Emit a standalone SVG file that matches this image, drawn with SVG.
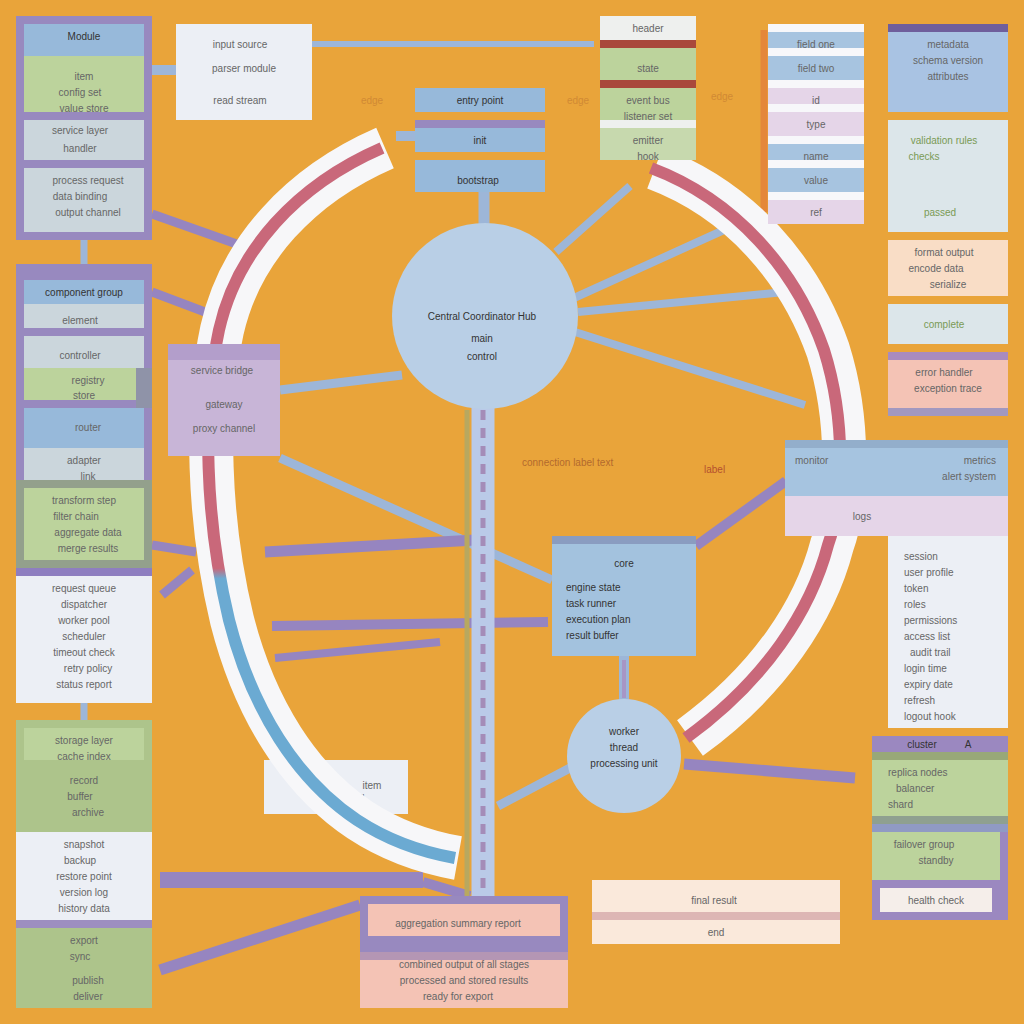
<svg xmlns="http://www.w3.org/2000/svg" width="1024" height="1024" viewBox="0 0 1024 1024">
<style>
.t{font-family:"Liberation Sans",Arial,sans-serif;font-size:10px;fill:#666;text-anchor:middle;dominant-baseline:central}
.l{text-anchor:start}
.r{text-anchor:end}
.d{fill:#333}
.g{fill:#7a9a55}
.o{fill:#b36a2e}
.cb{stroke:#9DB6D8;fill:none}
.cp{stroke:#9685C0;fill:none}
.blue{fill:#97B9DA}
.lblue{fill:#A7C4E0}
.grn{fill:#BCD39C}
.grn2{fill:#ADC48B}
.gb{fill:#CBD6DC}
.wh{fill:#ECEFF5}
.pur{fill:#9889BF}
.lav{fill:#C8B5D7}
.lavp{fill:#E5D5E8}
.peach{fill:#F9DDC6}
.peachp{fill:#FAE9DB}
.pink{fill:#F4C3B5}
.circ{fill:#B9CFE6}
</style>
<defs>
<linearGradient id="lstripe" gradientUnits="userSpaceOnUse" x1="0" y1="0" x2="0" y2="1024">
<stop offset="0" stop-color="#C9687A"/><stop offset="0.555" stop-color="#C9687A"/><stop offset="0.565" stop-color="#6BAAD2"/><stop offset="1" stop-color="#6BAAD2"/>
</linearGradient>
</defs>
<rect width="1024" height="1024" fill="#E9A43A"/>

<g id="connectors">
<line class="cb" x1="312" y1="44" x2="594" y2="44" stroke-width="6"/>
<line class="cb" x1="152" y1="70" x2="176" y2="70" stroke-width="10"/>
<line class="cb" x1="84" y1="240" x2="84" y2="264" stroke-width="7"/>
<line class="cb" x1="84" y1="703" x2="84" y2="720" stroke-width="7"/>
<line class="cp" x1="152" y1="214" x2="248" y2="248" stroke-width="9"/>
<line class="cp" x1="152" y1="292" x2="205" y2="312" stroke-width="9"/>
<line class="cp" x1="152" y1="545" x2="196" y2="552" stroke-width="9"/>
<line class="cp" x1="162" y1="595" x2="192" y2="570" stroke-width="9"/>
<line class="cb" x1="280" y1="390" x2="402" y2="375" stroke-width="9"/>
<line class="cb" x1="280" y1="458" x2="552" y2="580" stroke-width="9"/>
<line class="cp" x1="265" y1="552" x2="475" y2="540" stroke-width="11"/>
<line class="cp" x1="272" y1="626" x2="548" y2="622" stroke-width="10"/>
<line class="cp" x1="275" y1="658" x2="440" y2="642" stroke-width="8"/>
<line class="cp" x1="160" y1="880" x2="423" y2="880" stroke-width="16"/>
<line class="cp" x1="423" y1="882" x2="470" y2="896" stroke-width="10"/>
<line class="cp" x1="160" y1="970" x2="360" y2="905" stroke-width="11"/>
<line x1="467" y1="410" x2="467" y2="896" stroke="#B8A860" stroke-width="5"/>
<line x1="483" y1="405" x2="483" y2="896" stroke="#BACAE8" stroke-width="23"/>
<line x1="483" y1="410" x2="483" y2="896" stroke="#A48CB8" stroke-width="5" stroke-dasharray="10 8"/>
<line class="cb" x1="484" y1="190" x2="484" y2="224" stroke-width="11"/>
<line class="cb" x1="396" y1="136" x2="416" y2="136" stroke-width="10"/>
<line class="cb" x1="624" y1="656" x2="624" y2="700" stroke-width="10"/>
<line x1="624" y1="660" x2="624" y2="698" stroke="#A796C6" stroke-width="4"/>
<line class="cb" x1="570" y1="768" x2="498" y2="806" stroke-width="9"/>
<line class="cp" x1="684" y1="764" x2="855" y2="778" stroke-width="11"/>
<line class="cp" x1="696" y1="546" x2="786" y2="481" stroke-width="10"/>
<line class="cb" x1="556" y1="252" x2="630" y2="186" stroke-width="8"/>
<line class="cb" x1="574" y1="298" x2="735" y2="225" stroke-width="8"/>
<line class="cb" x1="578" y1="312" x2="805" y2="290" stroke-width="8"/>
<line class="cb" x1="575" y1="332" x2="805" y2="405" stroke-width="8"/>
<line x1="764" y1="30" x2="764" y2="212" stroke="#E4873A" stroke-width="7"/>
<text class="t o l" x="522" y="462">connection label text</text>
<text class="t o l" x="704" y="469" style="fill:#B5512E">label</text>
<text class="t o" x="372" y="100" style="opacity:.45">edge</text>
<text class="t o" x="578" y="100" style="opacity:.45">edge</text>
<text class="t o" x="722" y="96" style="opacity:.45">edge</text>
</g>

<g id="n-lightbox">
<rect class="wh" x="264" y="760" width="144" height="54"/>
<text class="t" x="372" y="785">item</text>
<text class="t" x="340" y="798">node detail</text>
</g>

<g id="ring">
<path d="M385,148 C300,185 240,250 222,330 C205,410 208,520 232,620 C255,710 300,780 360,820 C395,843 430,853 458,858" fill="none" stroke="#F7F7F9" stroke-width="44"/>
<path d="M385,148 C300,185 240,250 222,330 C205,410 208,520 232,620 C255,710 300,780 360,820 C395,843 430,853 458,858" fill="none" stroke="url(#lstripe)" stroke-width="12" transform="translate(-3,0)"/>
<path d="M655,168 C740,200 800,270 828,350 C850,420 848,500 832,545 C815,610 770,680 690,738" fill="none" stroke="#F7F7F9" stroke-width="44"/>
<path d="M655,168 C740,200 800,270 828,350 C850,420 848,500 832,545 C815,610 770,680 690,738" fill="none" stroke="#C9687A" stroke-width="12" transform="translate(-4,0)"/>
</g>

<g id="n-group1">
<rect class="pur" x="16" y="16" width="136" height="224"/>
<rect class="blue" x="24" y="24" width="120" height="32"/>
<rect class="grn" x="24" y="56" width="120" height="56"/>
<rect class="gb" x="24" y="120" width="120" height="40"/>
<rect class="gb" x="24" y="168" width="120" height="64"/>
<text class="t d" x="84" y="36">Module</text>
<text class="t" x="84" y="76">item</text>
<text class="t" x="80" y="92">config set</text>
<text class="t" x="84" y="108">value store</text>
<text class="t" x="80" y="130">service layer</text>
<text class="t" x="80" y="148">handler</text>
<text class="t" x="88" y="180">process request</text>
<text class="t" x="80" y="196">data binding</text>
<text class="t" x="88" y="212">output channel</text>
</g>

<g id="n-topleft">
<rect class="wh" x="176" y="24" width="136" height="96"/>
<text class="t" x="240" y="44">input source</text>
<text class="t" x="244" y="68">parser module</text>
<text class="t" x="240" y="100">read stream</text>
</g>

<g id="n-group2">
<rect class="pur" x="16" y="264" width="136" height="304"/>
<rect class="blue" x="24" y="280" width="120" height="24"/>
<rect class="gb" x="24" y="304" width="120" height="24"/>
<rect class="gb" x="24" y="336" width="120" height="32"/>
<rect x="136" y="368" width="16" height="40" fill="#8F93A8"/>
<rect class="grn" x="24" y="368" width="112" height="32"/>
<rect class="blue" x="24" y="408" width="120" height="40"/>
<rect class="gb" x="24" y="448" width="120" height="32"/>
<rect x="16" y="480" width="136" height="88" fill="#93A08C"/>
<rect class="grn" x="24" y="488" width="120" height="72"/>
<text class="t d" x="84" y="292">component group</text>
<text class="t" x="80" y="320">element</text>
<text class="t" x="80" y="355">controller</text>
<text class="t" x="88" y="380">registry</text>
<text class="t" x="84" y="395">store</text>
<text class="t" x="88" y="427">router</text>
<text class="t" x="84" y="460">adapter</text>
<text class="t" x="88" y="476">link</text>
<text class="t" x="84" y="500">transform step</text>
<text class="t" x="76" y="516">filter chain</text>
<text class="t" x="88" y="532">aggregate data</text>
<text class="t" x="88" y="548">merge results</text>
</g>

<g id="n-white1">
<rect class="wh" x="16" y="568" width="136" height="135"/>
<rect x="16" y="568" width="136" height="8" fill="#8E7EC0"/>
<text class="t" x="84" y="588">request queue</text>
<text class="t" x="84" y="604">dispatcher</text>
<text class="t" x="84" y="620">worker pool</text>
<text class="t" x="84" y="636">scheduler</text>
<text class="t" x="84" y="652">timeout check</text>
<text class="t" x="88" y="668">retry policy</text>
<text class="t" x="84" y="684">status report</text>
</g>

<g id="n-green1">
<rect class="grn2" x="16" y="720" width="136" height="112"/>
<rect class="grn" x="24" y="728" width="120" height="32"/>
<text class="t" x="84" y="740">storage layer</text>
<text class="t" x="84" y="756">cache index</text>
<text class="t" x="84" y="780">record</text>
<text class="t" x="80" y="796">buffer</text>
<text class="t" x="88" y="812">archive</text>
</g>

<g id="n-white2">
<rect class="wh" x="16" y="832" width="136" height="88"/>
<text class="t" x="84" y="844">snapshot</text>
<text class="t" x="80" y="860">backup</text>
<text class="t" x="84" y="876">restore point</text>
<text class="t" x="84" y="892">version log</text>
<text class="t" x="84" y="908">history data</text>
</g>

<g id="n-green2">
<rect class="grn2" x="16" y="920" width="136" height="88"/>
<rect x="16" y="920" width="136" height="8" fill="#9D8EC0"/>
<text class="t" x="84" y="940">export</text>
<text class="t" x="80" y="956">sync</text>
<text class="t" x="88" y="980">publish</text>
<text class="t" x="88" y="996">deliver</text>
</g>

<g id="n-lavender">
<rect class="lav" x="168" y="344" width="112" height="112"/>
<rect x="168" y="344" width="112" height="16" fill="#B39ECB"/>
<text class="t" x="222" y="370">service bridge</text>
<text class="t" x="224" y="404">gateway</text>
<text class="t" x="224" y="428">proxy channel</text>
</g>

<g id="n-topstack">
<rect class="blue" x="415" y="88" width="130" height="24"/>
<rect class="blue" x="415" y="120" width="130" height="32"/>
<rect x="415" y="120" width="130" height="8" fill="#9889BF"/>
<rect class="blue" x="415" y="160" width="130" height="32"/>
<text class="t d" x="480" y="100">entry point</text>
<text class="t d" x="480" y="140">init</text>
<text class="t d" x="478" y="180">bootstrap</text>
</g>

<g id="n-topmid">
<rect x="600" y="16" width="96" height="144" fill="#EEF0EE"/>
<rect x="600" y="40" width="96" height="8" fill="#A9483C"/>
<rect class="grn" x="600" y="48" width="96" height="32"/>
<rect x="600" y="80" width="96" height="8" fill="#A9483C"/>
<rect class="grn" x="600" y="88" width="96" height="32"/>
<rect x="600" y="128" width="96" height="32" fill="#C7D9AE"/>
<text class="t" x="648" y="28">header</text>
<text class="t" x="648" y="68">state</text>
<text class="t" x="648" y="100">event bus</text>
<text class="t" x="648" y="116">listener set</text>
<text class="t" x="648" y="140">emitter</text>
<text class="t" x="648" y="156">hook</text>
</g>

<g id="n-rightstack">
<rect x="768" y="24" width="96" height="200" fill="#F7F7FA"/>
<rect class="lblue" x="768" y="32" width="96" height="16"/>
<rect class="lblue" x="768" y="56" width="96" height="24"/>
<rect class="lavp" x="768" y="88" width="96" height="16"/>
<rect class="lavp" x="768" y="112" width="96" height="24"/>
<rect class="lblue" x="768" y="144" width="96" height="16"/>
<rect class="lblue" x="768" y="168" width="96" height="24"/>
<rect class="lavp" x="768" y="200" width="96" height="24"/>
<text class="t" x="816" y="44">field one</text>
<text class="t" x="816" y="68">field two</text>
<text class="t" x="816" y="100">id</text>
<text class="t" x="816" y="124">type</text>
<text class="t" x="816" y="156">name</text>
<text class="t" x="816" y="180">value</text>
<text class="t" x="816" y="212">ref</text>
</g>

<g id="n-r1">
<rect x="888" y="24" width="120" height="88" fill="#A9C3E3"/>
<rect x="888" y="24" width="120" height="8" fill="#6F5E9C"/>
<text class="t" x="948" y="44">metadata</text>
<text class="t" x="948" y="60">schema version</text>
<text class="t" x="948" y="76">attributes</text>
</g>
<g id="n-r2">
<rect x="888" y="120" width="120" height="112" fill="#DCE6EA"/>
<text class="t g" x="944" y="140">validation rules</text>
<text class="t g" x="924" y="156">checks</text>
<text class="t g" x="940" y="212">passed</text>
</g>
<g id="n-r3">
<rect class="peach" x="888" y="240" width="120" height="56"/>
<text class="t" x="944" y="252">format output</text>
<text class="t" x="936" y="268">encode data</text>
<text class="t" x="948" y="284">serialize</text>
</g>
<g id="n-r4">
<rect x="888" y="304" width="120" height="40" fill="#DCE6EA"/>
<text class="t g" x="944" y="324">complete</text>
</g>
<g id="n-r5">
<rect class="pink" x="888" y="352" width="120" height="64"/>
<rect x="888" y="352" width="120" height="8" fill="#A98BBE"/>
<rect x="888" y="408" width="120" height="8" fill="#A298C0"/>
<text class="t" x="944" y="372">error handler</text>
<text class="t" x="948" y="388">exception trace</text>
</g>

<g id="n-rightmid">
<rect x="785" y="440" width="223" height="56" fill="#A6C4E0"/>
<rect x="785" y="440" width="223" height="8" fill="#93AECB"/>
<rect class="lavp" x="785" y="496" width="223" height="40"/>
<text class="t l" x="795" y="460">monitor</text>
<text class="t r" x="996" y="460">metrics</text>
<text class="t r" x="996" y="476">alert system</text>
<text class="t" x="862" y="516">logs</text>
</g>

<g id="n-rightwhite">
<rect class="wh" x="888" y="536" width="120" height="192"/>
<text class="t l" x="904" y="556">session</text>
<text class="t l" x="904" y="572">user profile</text>
<text class="t l" x="904" y="588">token</text>
<text class="t l" x="904" y="604">roles</text>
<text class="t l" x="904" y="620">permissions</text>
<text class="t l" x="904" y="636">access list</text>
<text class="t l" x="910" y="652">audit trail</text>
<text class="t l" x="904" y="668">login time</text>
<text class="t l" x="904" y="684">expiry date</text>
<text class="t l" x="904" y="700">refresh</text>
<text class="t l" x="904" y="716">logout hook</text>
</g>

<g id="n-rightgroup">
<rect x="872" y="736" width="136" height="184" fill="#9B88C0"/>
<rect x="872" y="752" width="136" height="8" fill="#98A878"/>
<rect class="grn" x="872" y="760" width="136" height="56"/>
<rect x="872" y="816" width="136" height="8" fill="#8FA090"/>
<rect x="872" y="824" width="136" height="8" fill="#909AC4"/>
<rect class="grn" x="872" y="832" width="128" height="48"/>
<rect x="880" y="888" width="112" height="24" fill="#F5EEEA"/>
<text class="t d" x="922" y="744">cluster</text>
<text class="t d" x="968" y="744">A</text>
<text class="t l" x="888" y="772">replica nodes</text>
<text class="t l" x="896" y="788">balancer</text>
<text class="t l" x="888" y="804">shard</text>
<text class="t" x="924" y="844">failover group</text>
<text class="t" x="936" y="860">standby</text>
<text class="t" x="936" y="900">health check</text>
</g>

<g id="n-bottomright">
<rect class="peachp" x="592" y="880" width="248" height="64"/>
<rect x="592" y="912" width="248" height="8" fill="#DDB6B4"/>
<text class="t" x="714" y="900">final result</text>
<text class="t" x="716" y="932">end</text>
</g>

<g id="n-bottomcenter">
<rect class="pur" x="360" y="896" width="208" height="56"/>
<rect class="pink" x="368" y="904" width="192" height="32"/>
<rect class="pink" x="360" y="952" width="208" height="56"/>
<rect x="360" y="952" width="208" height="8" fill="#B496B4"/>
<text class="t" x="458" y="923">aggregation summary report</text>
<text class="t" x="464" y="964">combined output of all stages</text>
<text class="t" x="464" y="980">processed and stored results</text>
<text class="t" x="458" y="996">ready for export</text>
</g>

<g id="n-bluebox">
<rect class="blue" x="552" y="536" width="144" height="120" style="fill:#A3C2DE"/>
<rect x="552" y="536" width="144" height="8" fill="#8A9CC0"/>
<text class="t d" x="624" y="563">core</text>
<text class="t l d" x="566" y="587">engine state</text>
<text class="t l d" x="566" y="603">task runner</text>
<text class="t l d" x="566" y="619">execution plan</text>
<text class="t l d" x="566" y="635">result buffer</text>
</g>

<g id="n-smallcircle">
<circle class="circ" cx="624" cy="756" r="57"/>
<text class="t d" x="624" y="731">worker</text>
<text class="t d" x="624" y="747">thread</text>
<text class="t d" x="624" y="763">processing unit</text>
</g>

<g id="n-bigcircle">
<circle class="circ" cx="485" cy="316" r="93"/>
<text class="t d" x="482" y="316">Central Coordinator Hub</text>
<text class="t d" x="482" y="338">main</text>
<text class="t d" x="482" y="356">control</text>
</g>
</svg>
